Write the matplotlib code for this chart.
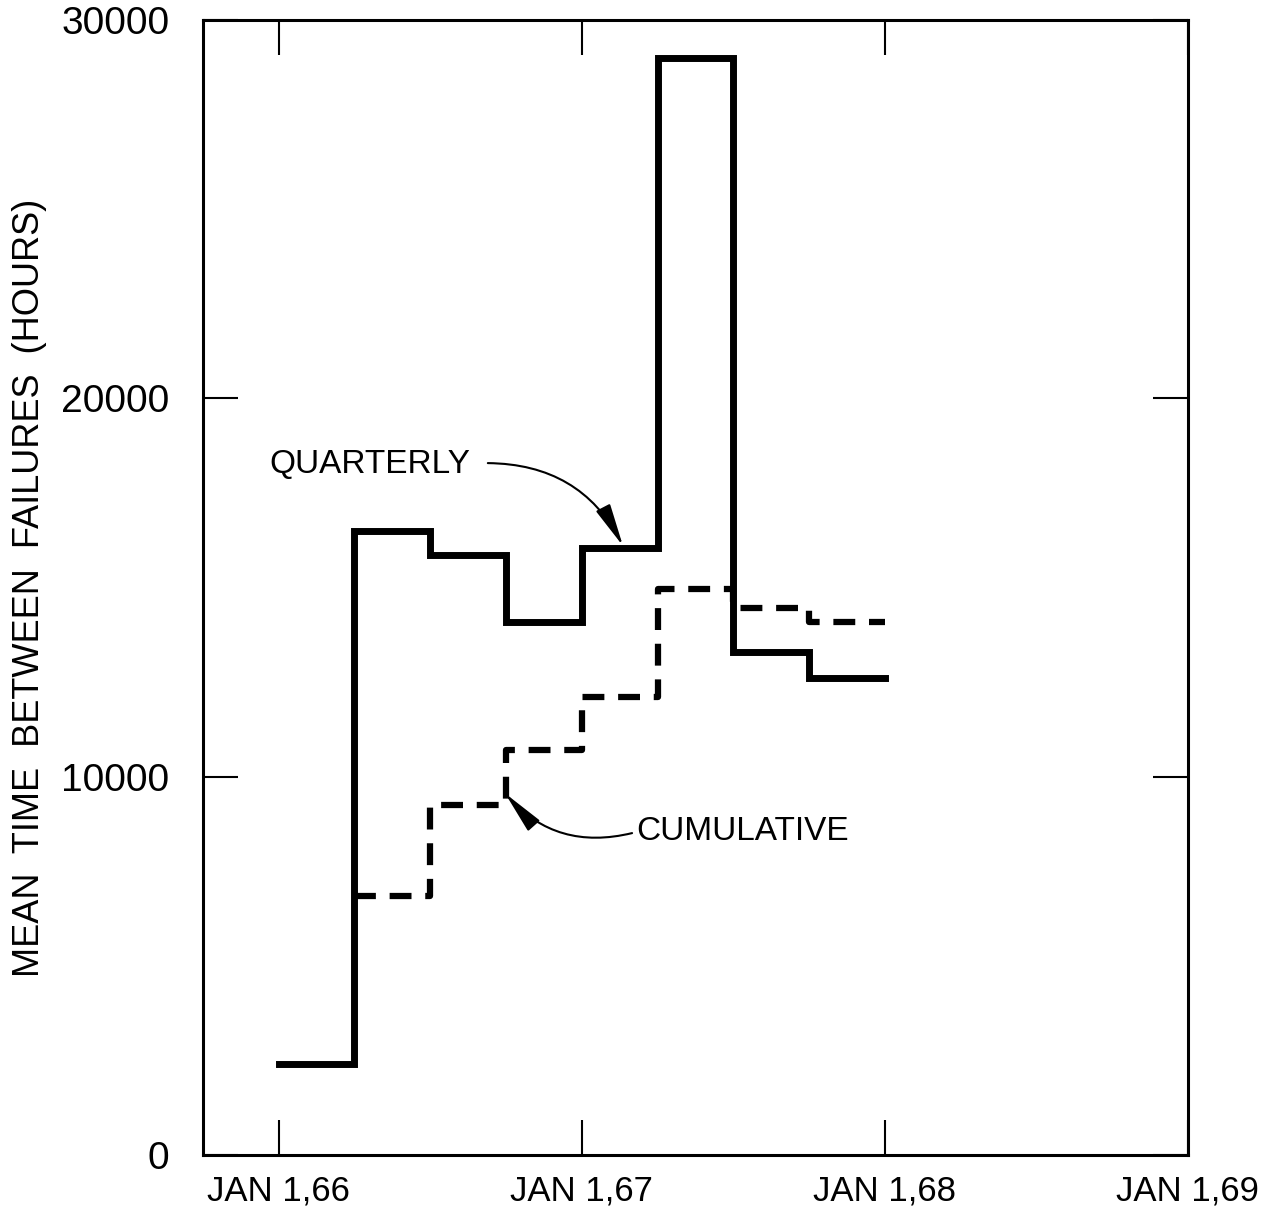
import numpy as np
import matplotlib
matplotlib.use("Agg")
import matplotlib.pyplot as plt

plt.rcParams['font.family'] = ['Liberation Sans', 'DejaVu Sans']

# Data: quarterly and cumulative MTBF (hours), quarter start dates in years
quarter_starts = [1966.0, 1966.25, 1966.5, 1966.75, 1967.0, 1967.25, 1967.5, 1967.75]
quarterly = [2400, 16500, 15850, 14100, 16050, 29000, 13300, 12600]
cum_starts = [1966.25, 1966.5, 1966.75, 1967.0, 1967.25, 1967.5, 1967.75]
cumulative = [6850, 9250, 10700, 12100, 14950, 14450, 14100]
end_date = 1968.0

x_ticks = [1966, 1967, 1968, 1969]
x_labels = ["JAN 1,66", "JAN 1,67", "JAN 1,68", "JAN 1,69"]
y_ticks = [0, 10000, 20000, 30000]
y_labels = ["0", "10000", "20000", "30000"]

fig = plt.figure(figsize=(12.78, 12.17), dpi=100)
ax = fig.add_axes([0.1588, 0.0509, 0.7707, 0.9326])

ax.step(quarter_starts + [end_date], quarterly + [quarterly[-1]], where="post",
        color="black", lw=5, solid_joinstyle="miter")
ax.step(cum_starts + [end_date], cumulative + [cumulative[-1]], where="post",
        color="black", lw=4.5, linestyle=(0, (3.5, 2.2)))

ax.set_xlim(1965.75, 1969)
ax.set_ylim(0, 30000)
ax.set_xticks(x_ticks)
ax.set_xticklabels(x_labels, fontsize=25)
ax.set_yticks(y_ticks)
ax.set_yticklabels(y_labels, fontsize=28)
ax.tick_params(axis="both", direction="in", length=25, width=1.5,
               top=True, right=True)
ax.tick_params(axis="x", pad=14)
ax.tick_params(axis="y", pad=24)
for sp in ax.spines.values():
    sp.set_linewidth(2.2)

ax.set_ylabel("MEAN  TIME  BETWEEN  FAILURES  (HOURS)", fontsize=26, labelpad=10)

# Annotations
ax.text(1966.30, 18250, "QUARTERLY", fontsize=24, ha="center", va="center")
ax.annotate("", xy=(1967.136, 16100), xytext=(1966.69, 18290),
            arrowprops=dict(arrowstyle="-|>,head_length=1.2,head_width=0.22",
                            connectionstyle="arc3,rad=-0.3", color="black",
                            lw=1.5, mutation_scale=22, shrinkA=0, shrinkB=0))
ax.text(1967.53, 8540, "CUMULATIVE", fontsize=24, ha="center", va="center")
ax.annotate("", xy=(1966.747, 9560), xytext=(1967.166, 8510),
            arrowprops=dict(arrowstyle="-|>,head_length=1.2,head_width=0.22",
                            connectionstyle="arc3,rad=-0.3", color="black",
                            lw=1.5, mutation_scale=22, shrinkA=0, shrinkB=0))

fig.savefig("out.png", dpi=100)
